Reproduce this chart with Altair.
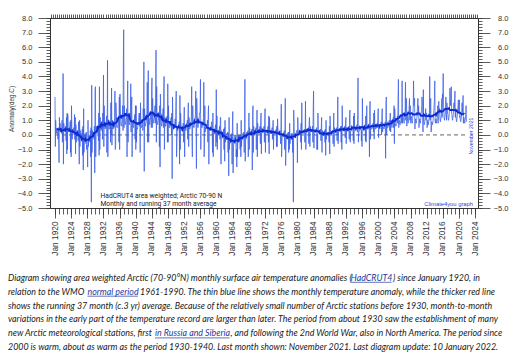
import altair as alt
import pandas as pd

# ---------------- data (monthly anomalies, deg C) -------------
anom_1920s = [
    2.6, -0.8, 1.0, 0.4, 0.2, 0.1, 0.3, 0.2, 0.0, -0.3, 0.5, -0.6,
    -1.9, 1.2, 0.3, 0.8, 0.4, 0.2, 0.4, 0.3, 0.5, 1.0, -0.5, 1.0,
    4.2, -2.0, 0.8, 0.5, 0.3, 0.4, 0.2, 0.3, 0.6, -0.4, 1.2, -1.3,
    1.5, -1.0, 1.4, 0.6, 0.3, 0.2, 0.4, 0.5, 0.2, 0.9, -1.2, 1.0,
    -1.5, 2.0, 0.6, -0.3, 0.4, 0.3, 0.2, 0.3, 0.5, 0.0, 1.4, -0.3,
    1.2, -1.3, 0.7, -0.5, 0.2, 0.1, 0.3, 0.0, 0.2, -0.4, 0.9, -0.2,
    -2.0, 1.0, -0.8, 0.3, -0.2, 0.0, 0.1, -0.1, -0.3, 0.4, -1.4, 0.6,
    -2.4, 1.8, -1.2, -0.5, 0.0, -0.2, 0.1, -0.3, -0.6, 0.2, -1.0, -0.7,
    -1.0, -2.2, 1.0, -0.8, -0.2, 0.0, -0.1, -0.3, -0.5, 0.3, -1.5, 0.5,
    -4.6, 3.4, -1.2, 0.3, 0.0, -0.1, 0.2, 0.1, -0.3, 0.6, -2.6, 3.0,
]
anom_1930s = [
    3.3, -1.5, 0.4, 0.6, 0.2, 0.1, 0.3, 0.2, 0.5, -0.4, 1.5, -1.4,
    3.3, -1.0, 1.2, 0.8, 0.4, 0.3, 0.5, 0.4, 0.9, -0.3, 1.5, 0.5,
    4.1, -0.8, 2.0, 0.9, 0.5, 0.4, 0.6, 0.5, 0.8, 1.3, -1.2, 0.5,
    5.1, -1.5, 1.0, 0.7, 0.5, 0.4, 0.5, 0.6, 0.9, -0.5, 2.2, 0.0,
    3.2, -0.7, 0.3, 1.0, 0.5, 0.4, 0.6, 0.5, 0.7, 1.2, 3.0, -1.0,
    -0.8, 2.2, 1.5, 0.6, 0.5, 0.5, 0.6, 0.7, 1.0, 1.3, -0.5, 2.6,
    -1.0, 2.8, 1.8, 1.0, 0.7, 0.6, 0.8, 0.9, 1.3, 2.0, 0.3, 4.9,
    7.2, 0.5, 2.0, 1.2, 0.8, 0.7, 0.9, 1.0, 1.4, 1.8, -1.5, 2.5,
    3.7, -0.5, 1.5, 1.0, 0.8, 0.7, 0.9, 1.0, 1.5, 3.5, 0.2, 2.0,
    2.6, -1.5, 0.8, 0.9, 0.6, 0.5, 0.7, 0.8, 1.0, 1.4, -0.3, 2.0,
]
anom_1940s = [
    -1.0, 2.0, -0.5, 0.5, 0.4, 0.4, 0.6, 0.7, 0.8, 1.2, 1.5, 0.6,
    1.5, -1.2, 2.2, 0.7, 0.5, 0.5, 0.7, 0.8, 1.0, 0.3, 1.8, 1.0,
    5.0, -2.5, 1.8, 0.9, 0.7, 0.6, 0.8, 0.9, 1.2, 1.5, 3.6, -0.5,
    2.0, 4.4, -0.5, 1.2, 0.8, 0.7, 0.9, 1.0, 1.3, 1.6, 0.5, 3.0,
    3.9, 0.5, 2.5, 1.3, 0.9, 0.8, 1.0, 1.1, 1.5, 2.0, 0.8, 3.2,
    5.8, -0.5, 3.3, 1.0, 0.8, 0.7, 0.9, 1.0, 1.2, 1.5, -0.8, 2.0,
    -2.2, 2.8, 1.5, 1.0, 0.7, 0.6, 0.8, 0.9, 1.2, 1.8, 0.5, 3.0,
    4.0, -1.0, 1.2, 0.8, 0.6, 0.6, 0.8, 0.8, 1.0, 1.3, -0.5, 3.5,
    -0.5, 2.0, 1.0, 0.7, 0.5, 0.5, 0.7, 0.7, 0.9, 1.2, 0.0, 1.5,
    -3.0, 2.6, 1.0, 0.6, 0.4, 0.4, 0.6, 0.6, 0.8, 1.1, 0.5, 2.0,
]
anom_1950s = [
    3.0, -1.5, -0.5, 0.5, 0.3, 0.3, 0.5, 0.5, 0.6, 0.9, -2.0, 2.7,
    -1.0, 1.5, 0.8, 0.4, 0.3, 0.3, 0.5, 0.5, 0.6, 0.8, -0.5, 1.0,
    1.9, -1.5, 0.5, 0.5, 0.3, 0.3, 0.5, 0.6, 0.7, 1.0, -0.3, 1.4,
    2.2, -0.8, 1.2, 0.6, 0.4, 0.4, 0.6, 0.7, 0.9, 1.2, 3.3, -0.5,
    -1.5, 2.0, 1.0, 0.7, 0.5, 0.5, 0.7, 0.8, 1.0, 1.4, 3.0, 0.5,
    -2.3, 2.5, 1.5, 0.7, 0.5, 0.5, 0.7, 0.8, 1.0, 1.5, 1.5, 1.5,
    3.8, -1.0, 0.8, 0.6, 0.5, 0.5, 0.6, 0.7, 0.9, 1.2, 3.6, -1.5,
    -0.5, 2.0, 0.2, 0.5, 0.4, 0.4, 0.6, 0.6, 0.7, 1.0, -0.5, 1.5,
    2.0, -2.0, 0.5, 0.4, 0.3, 0.3, 0.5, 0.5, 0.6, 0.9, 0.8, 0.0,
    -1.2, 1.5, -1.5, 0.3, 0.2, 0.3, 0.4, 0.4, 0.5, 0.7, -0.8, 3.1,
]
anom_1960s = [
    -0.5, 1.3, -1.0, 0.2, 0.1, 0.2, 0.3, 0.3, 0.4, 0.6, -0.3, 1.2,
    1.2, -2.0, 0.3, 0.0, 0.0, 0.1, 0.2, 0.1, 0.2, 0.4, -1.0, 0.5,
    -1.8, 1.0, -0.5, -0.2, -0.1, 0.0, 0.1, 0.0, 0.0, 0.2, -1.2, 0.1,
    -2.8, 1.2, -1.0, -0.3, -0.2, -0.1, 0.0, -0.1, -0.2, 0.1, -2.0, 0.6,
    1.6, -2.6, -1.2, -0.4, -0.2, -0.1, 0.0, -0.1, -0.3, 0.0, -1.5, -1.0,
    -2.2, 0.8, -1.5, -0.3, -0.2, -0.1, 0.0, -0.1, -0.2, 0.0, -1.0, 0.0,
    -1.5, 1.0, -0.8, -0.2, -0.1, 0.0, 0.1, 0.0, -0.1, 0.2, -1.2, 0.2,
    3.8, -1.8, -0.5, 0.0, 0.0, 0.1, 0.2, 0.1, 0.1, 0.3, -1.5, -0.8,
    1.5, -1.0, 0.5, 0.1, 0.1, 0.1, 0.2, 0.2, 0.2, 0.4, -2.4, 1.3,
    2.0, -1.2, 0.6, 0.1, 0.1, 0.2, 0.3, 0.2, 0.3, 0.5, -1.0, 0.3,
]
anom_1970s = [
    1.7, -1.5, 0.8, 0.2, 0.2, 0.2, 0.3, 0.3, 0.4, 0.6, -0.6, 1.0,
    1.5, -1.3, 0.5, 0.2, 0.2, 0.2, 0.3, 0.3, 0.4, 0.6, -0.5, 1.2,
    1.8, -1.2, 0.2, 0.2, 0.2, 0.2, 0.3, 0.3, 0.4, 0.6, -0.5, 1.3,
    -1.3, 1.2, 0.4, 0.2, 0.1, 0.2, 0.3, 0.2, 0.3, 0.5, -0.3, 0.6,
    1.0, -1.0, 0.3, 0.1, 0.1, 0.1, 0.2, 0.2, 0.2, 0.4, -0.8, 0.6,
    -0.8, 1.1, 0.5, 0.1, 0.1, 0.1, 0.2, 0.2, 0.2, 0.3, -0.6, 0.0,
    2.1, -1.5, -0.6, 0.0, 0.0, 0.1, 0.1, 0.1, 0.1, 0.3, -1.0, 0.3,
    2.5, -2.1, -0.8, -0.1, 0.0, 0.0, 0.1, 0.0, 0.0, 0.2, -1.2, 0.2,
    -1.0, 0.8, -0.6, -0.2, -0.1, 0.0, 0.1, 0.0, -0.1, 0.1, -1.2, -0.2,
    -4.6, 1.7, 0.8, -0.1, 0.0, 0.0, 0.1, 0.1, 0.0, 0.2, 0.3, 0.3,
]
anom_1980s = [
    -1.9, 1.2, 0.5, 0.1, 0.1, 0.1, 0.2, 0.2, 0.1, 0.3, -0.5, 0.8,
    -1.0, 2.2, 0.3, 0.2, 0.1, 0.1, 0.2, 0.2, 0.2, 0.4, -0.5, 0.0,
    2.3, -1.0, 0.4, 0.2, 0.2, 0.2, 0.3, 0.3, 0.3, 0.5, -0.6, 0.9,
    1.2, -0.8, 0.6, 0.3, 0.3, 0.2, 0.3, 0.3, 0.4, 0.6, -0.5, 1.8,
    3.0, -0.9, 0.3, 0.2, 0.2, 0.2, 0.3, 0.3, 0.3, 0.5, -1.0, 0.0,
    -1.0, 1.5, 0.3, 0.2, 0.1, 0.1, 0.2, 0.2, 0.2, 0.4, -0.4, 0.6,
    1.2, -1.2, 0.3, 0.1, 0.1, 0.1, 0.2, 0.1, 0.2, 0.3, -0.5, 0.4,
    -1.4, 1.0, -0.3, 0.0, 0.0, 0.1, 0.1, 0.1, 0.1, 0.2, -0.5, 0.6,
    -1.3, 1.3, 0.4, 0.1, 0.1, 0.1, 0.2, 0.1, 0.2, 0.3, -0.6, 0.4,
    1.5, -0.8, 0.5, 0.2, 0.2, 0.2, 0.3, 0.3, 0.3, 0.5, -0.4, 0.9,
]
anom_1990s = [
    2.6, -0.6, 0.2, 0.3, 0.3, 0.3, 0.3, 0.4, 0.4, 0.6, -0.5, 0.6,
    -1.0, 2.0, 0.6, 0.3, 0.3, 0.3, 0.3, 0.4, 0.4, 0.6, -0.2, 0.8,
    1.2, -0.6, 0.5, 0.3, 0.3, 0.3, 0.3, 0.3, 0.4, 0.6, -0.3, 1.4,
    1.7, -0.5, 0.2, 0.3, 0.3, 0.3, 0.3, 0.4, 0.4, 0.5, -0.4, 1.3,
    -0.6, 1.5, 0.6, 0.4, 0.3, 0.3, 0.4, 0.4, 0.5, 0.7, 0.2, 1.3,
    3.9, -0.5, 0.0, 0.3, 0.3, 0.3, 0.4, 0.4, 0.4, 0.6, -0.4, 0.3,
    -0.8, 2.5, 0.4, 0.4, 0.3, 0.3, 0.4, 0.4, 0.5, 0.7, -0.4, 1.3,
    -0.5, 1.0, 2.0, 0.4, 0.4, 0.4, 0.4, 0.5, 0.5, 0.7, -1.5, 2.0,
    2.3, -0.3, 0.5, 0.5, 0.4, 0.4, 0.5, 0.5, 0.6, 0.8, 0.2, 1.5,
    -0.3, 1.7, 0.6, 0.5, 0.4, 0.4, 0.5, 0.6, 0.6, 0.8, 0.5, 1.2,
]
anom_2000s = [
    1.8, -0.2, 0.6, 0.5, 0.5, 0.4, 0.5, 0.6, 0.7, 0.9, 0.0, 1.4,
    1.8, 0.2, 0.8, 0.5, 0.5, 0.4, 0.5, 0.6, 0.7, 0.9, -1.6, 2.0,
    2.6, 0.0, 0.8, 0.6, 0.5, 0.5, 0.6, 0.7, 0.8, 1.0, 0.3, 1.2,
    1.5, 0.2, 1.0, 0.7, 0.6, 0.5, 0.7, 0.8, 0.9, 1.2, 0.5, 2.0,
    -0.6, 1.8, 1.2, 0.8, 0.6, 0.6, 0.7, 0.8, 1.0, 1.3, 0.8, 2.5,
    3.8, 0.5, 1.0, 1.0, 0.8, 0.7, 0.9, 1.0, 1.4, 1.2, 0.8, 3.7,
    0.8, 1.5, 1.2, 1.2, 0.9, 0.8, 1.0, 1.2, 1.6, 3.6, 1.0, 2.5,
    2.5, 0.6, 1.4, 1.2, 0.9, 0.8, 1.1, 1.3, 2.0, 2.5, 1.0, 2.0,
    1.0, 0.8, 1.3, 1.2, 0.9, 0.8, 1.0, 1.3, 1.8, 3.7, 2.0, 2.2,
    2.5, 0.4, 1.0, 1.1, 0.9, 0.8, 1.0, 1.2, 1.5, 2.2, 2.5, 1.5,
]
anom_2010s = [
    2.0, 0.5, 0.8, 1.1, 0.9, 0.8, 1.0, 1.2, 1.5, 2.0, 2.6, 2.2,
    2.2, 0.2, 3.1, 1.0, 0.8, 0.7, 0.9, 1.1, 1.4, 1.8, 1.0, 1.5,
    1.5, 0.5, 0.6, 1.0, 0.8, 0.7, 0.9, 1.1, 1.5, 4.0, 1.0, 1.8,
    2.5, 0.2, 0.3, 0.9, 0.8, 0.7, 0.8, 1.0, 1.2, 1.6, 2.0, 2.4,
    3.7, 1.0, 0.8, 1.1, 0.9, 0.8, 1.0, 1.2, 1.5, 2.0, 0.8, 2.0,
    2.3, 1.5, 1.8, 1.3, 1.0, 0.9, 1.1, 1.3, 1.8, 2.5, 1.2, 2.8,
    2.5, 4.2, 2.0, 1.5, 1.1, 1.0, 1.2, 1.4, 1.8, 2.6, 1.5, 1.0,
    2.2, 1.8, 1.5, 1.4, 1.1, 1.0, 1.2, 1.4, 2.0, 3.2, 2.5, 2.0,
    2.5, 3.3, 1.5, 1.4, 1.1, 1.0, 1.2, 1.4, 1.8, 2.2, 1.8, 2.5,
    3.0, 1.2, 1.8, 1.3, 1.0, 0.9, 1.1, 1.3, 1.6, 2.0, 2.4, 1.5,
]
anom_2020s = [
    1.5, 2.4, 1.2, 1.3, 1.0, 0.9, 1.0, 1.2, 1.6, 2.2, 1.8, 1.5,
    2.7, 0.8, 1.2, 1.2, 0.9, 0.8, 1.0, 1.1, 1.5, 2.0, 0.9,
]
FIRST_YEAR = 1920
RUNNING_MONTHS = 37

# tick values
x_major = list(range(1920, 2025, 4))
x_minor = list(range(1920, 2025))
x_top = [1919 + k / 2 for k in range(212)]
y_major = list(range(-5, 9))
y_minor = [round(-5 + k / 5, 1) for k in range(66)]

# texts
legend_lines = ["HadCRUT4 area weighted; Arctic 70-90 N",
                "Monthly and running 37 month average"]
credit_text = "Climate4you graph"
last_month_text = "November 2021"
y_title = "Anomaly(deg.C)"
caption_segments = [
    "Diagram showing area weighted Arctic (70-90°N) monthly surface air temperature anomalies (",
    "HadCRUT4",
    ") since January 1920, in",
    "relation to the WMO",
    "normal period",
    "1961-1990. The thin blue line shows the monthly temperature anomaly, while the thicker red line",
    "shows the running 37 month (c.3 yr) average. Because of the relatively small number of Arctic stations before 1930, month-to-month",
    "variations in the early part of the temperature record are larger than later. The period from about 1930 saw the establishment of many",
    "new Arctic meteorological stations, first",
    "in Russia and Siberia",
    ", and following the 2nd World War, also in North America. The period since",
    "2000 is warm, about as warm as the period 1930-1940. Last month shown: November 2021. Last diagram update: 10 January 2022.",
]
caption_is_link = [False, True, False, False, True, False, False, False, False, True, False, False]

# ---------------- layout / style ----------------
seg_line = [0, 0, 0, 1, 1, 1, 2, 3, 4, 4, 4, 5]
seg_x = [-42, 300.5, 343, -42, 37.5, 90, -42, -42, -42, 105, 180.5, -42]
link_end = {1: 341.5, 4: 88, 9: 179.5}
line_y = [262.7, 276.6, 290.5, 304.4, 318.3, 332.2]
CAP_FONT = "Lato"
CAP_SIZE = 8.85
AX_FONT = "Liberation Sans"
AX_COL = "#333333"
LINK_COL = "#1f3a9e"
BLUE = "#1d3fe0"

values = (anom_1920s + anom_1930s + anom_1940s + anom_1950s + anom_1960s
          + anom_1970s + anom_1980s + anom_1990s + anom_2000s + anom_2010s + anom_2020s)
df = pd.DataFrame({"t": [FIRST_YEAR + i / 12 for i in range(len(values))], "v": values})
df["avg"] = df["v"].rolling(RUNNING_MONTHS, center=True, min_periods=25).mean()
avg_df = df.dropna(subset=["avg"])
zero_df = pd.DataFrame({"t0": [df["t"].min()], "t1": [df["t"].max()], "z": [0.0]})

xs = alt.Scale(domain=[1918.76, 2024.7], nice=False, zero=False)
ys = alt.Scale(domain=[-5, 8], nice=False, zero=False)

common_axis = dict(grid=False, title=None, labelFont=AX_FONT, labelColor=AX_COL,
                   domainColor=AX_COL, tickColor=AX_COL, labelFlush=False,
                   labelOverlap=False, labelBound=False, domainWidth=1, tickWidth=0.8)

x_major_axis = alt.Axis(orient="bottom", values=x_major, labelExpr="'Jan ' + datum.value",
                        labelAngle=270, tickSize=10, labelPadding=3, labelFontSize=8.3,
                        **common_axis)
x_minor_axis = alt.Axis(orient="bottom", values=x_minor, tickSize=6, labels=False,
                        domain=False, **common_axis)
x_top_axis = alt.Axis(orient="top", values=x_top, tickSize=4, labels=False,
                      **common_axis)
y_left_axis = alt.Axis(orient="left", values=y_major, format=".1f", tickSize=12,
                       labelPadding=6, labelFontSize=7.5, **common_axis)
y_left_minor = alt.Axis(orient="left", values=y_minor, tickSize=4, labels=False,
                        domain=False, **common_axis)
y_right_axis = alt.Axis(orient="right", values=y_major, format=".1f", tickSize=12,
                        labelPadding=18, labelAlign="right", labelFontSize=7.5, **common_axis)
y_right_minor = alt.Axis(orient="right", values=y_minor, tickSize=4, labels=False,
                         domain=False, **common_axis)

zero_rule = alt.Chart(zero_df).mark_rule(color="#555555", strokeDash=[4, 3], strokeWidth=0.9).encode(
    x=alt.X("t0:Q", scale=xs, axis=x_top_axis),
    x2="t1:Q",
    y=alt.Y("z:Q", scale=ys, axis=y_right_axis),
)
right_minor = alt.Chart(zero_df).mark_rule(opacity=0).encode(
    x=alt.X("t0:Q", scale=xs, axis=None),
    x2="t1:Q",
    y=alt.Y("z:Q", scale=ys, axis=y_right_minor),
)
monthly_line = alt.Chart(df).mark_line(color="#3a5de6", strokeWidth=0.75).encode(
    x=alt.X("t:Q", scale=xs, axis=x_major_axis),
    y=alt.Y("v:Q", scale=ys, axis=y_left_axis),
)
avg_line = alt.Chart(avg_df).mark_line(color="#0a2bcf", strokeWidth=1.8).encode(
    x=alt.X("t:Q", scale=xs, axis=x_minor_axis),
    y=alt.Y("avg:Q", scale=ys, axis=y_left_minor),
)

layers = [zero_rule, right_minor, monthly_line, avg_line]

# in-plot texts
for i, txt in enumerate(legend_lines):
    layers.append(alt.Chart(pd.DataFrame({"s": [txt]})).mark_text(
        align="left", baseline="alphabetic", font="Roboto", fontSize=6.7,
        color="#222222").encode(x=alt.value(50.5), y=alt.value(180 + 7.5 * i), text="s:N"))
layers.append(alt.Chart(pd.DataFrame({"s": [credit_text]})).mark_text(
    align="right", baseline="alphabetic", font=AX_FONT, fontSize=5.8, color=BLUE
).encode(x=alt.value(423), y=alt.value(187.5), text="s:N"))
layers.append(alt.Chart(pd.DataFrame({"s": [last_month_text]})).mark_text(
    align="center", baseline="middle", font=AX_FONT, fontSize=5.2, color=BLUE, angle=270
).encode(x=alt.value(421), y=alt.value(118), text="s:N"))
layers.append(alt.Chart(pd.DataFrame({"s": [y_title]})).mark_text(
    align="center", baseline="middle", font=AX_FONT, fontSize=6.4, color=AX_COL, angle=270
).encode(x=alt.value(-38), y=alt.value(91), text="s:N"))

# caption
for k, txt in enumerate(caption_segments):
    link = caption_is_link[k]
    yy = line_y[seg_line[k]]
    layers.append(alt.Chart(pd.DataFrame({"s": [txt]})).mark_text(
        align="left", baseline="alphabetic", font=CAP_FONT, fontSize=CAP_SIZE,
        fontStyle="italic", color=LINK_COL if link else "#1a1a1a"
    ).encode(x=alt.value(seg_x[k]), y=alt.value(yy), text="s:N"))
    if link:
        layers.append(alt.Chart(pd.DataFrame({"s": [txt]})).mark_rule(
            color=LINK_COL, strokeWidth=0.7
        ).encode(x=alt.value(seg_x[k]), x2=alt.value(link_end[k]),
                 y=alt.value(yy + 1.6)))

chart = alt.layer(*layers).resolve_axis(x="independent", y="independent").properties(
    width=428, height=190,
    padding={"left": 42, "top": 10, "right": 38, "bottom": 146},
    autosize=alt.AutoSizeParams(type="none"),
    background="white",
).configure_view(strokeWidth=0)

chart.save("out.html", embed_options={"renderer": "svg", "actions": False})
